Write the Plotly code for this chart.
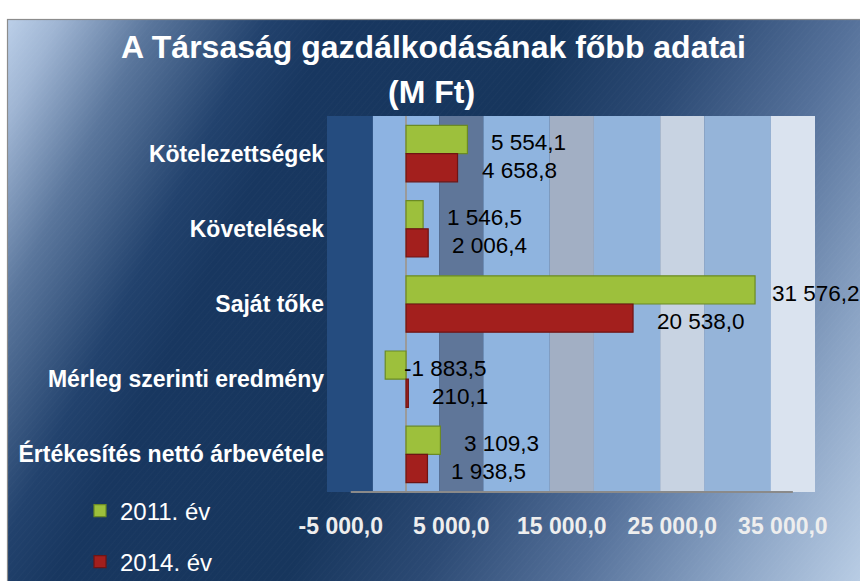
import base64
import plotly.graph_objects as go

# ---- data ----
categories = ["Kötelezettségek", "Követelések", "Saját tőke",
              "Mérleg szerinti eredmény", "Értékesítés nettó árbevétele"]
values_2011 = [5554.1, 1546.5, 31576.2, -1883.5, 3109.3]
values_2014 = [4658.8, 2006.4, 20538.0, 210.1, 1938.5]
series_names = ["2011. év", "2014. év"]
tick_values = [-5000, 5000, 15000, 25000, 35000]
title_line1 = "A Társaság gazdálkodásának főbb adatai"
title_line2 = "(M Ft)"


def hu(v):
    return f"{v:,.1f}".replace(",", " ").replace(".", ",")


W, H = 860, 581
L, T = 327, 116
R, B = W - 815, H - 492
PW, PH = W - L - R, H - T - B
X_RANGE = [-7150, 37000]


def px_x(px):  # page px -> paper
    return (px - L) / PW


def px_y(py):
    return (H - B - py) / PH


FONT = "Liberation Sans, Arial, sans-serif"
GREEN, GREEN_LINE = "#9dc03c", "#6b8a24"
RED, RED_LINE = "#a31f1d", "#6e1414"

# background (chart area gradient + border) as an SVG image, in page pixels
svg = f"""<svg xmlns='http://www.w3.org/2000/svg' width='{W}' height='{H}' viewBox='0 0 {W} {H}' preserveAspectRatio='none'>
<defs>
<linearGradient id='g' gradientUnits='userSpaceOnUse' x1='0' y1='0' x2='920' y2='460'>
<stop offset='0' stop-color='#c5d8f0'/>
<stop offset='0.06' stop-color='#9fb5d3'/>
<stop offset='0.14' stop-color='#5a769c'/>
<stop offset='0.24' stop-color='#22426d'/>
<stop offset='0.30' stop-color='#183760'/>
<stop offset='0.50' stop-color='#17365d'/>
<stop offset='0.62' stop-color='#2c4a74'/>
<stop offset='0.75' stop-color='#55719a'/>
<stop offset='0.88' stop-color='#8aa3c4'/>
<stop offset='1' stop-color='#b8cce4'/>
</linearGradient>
<pattern id='p' width='5' height='5' patternUnits='userSpaceOnUse' patternTransform='rotate(40)'>
<line x1='0' y1='0' x2='0' y2='5' stroke='#ffffff' stroke-width='1'/></pattern>
</defs>
<rect x='0' y='0' width='{W}' height='{H}' fill='#ffffff'/>
<rect x='7.5' y='19.5' width='{W + 10}' height='{H + 10}' fill='url(#g)' stroke='#8c8c8c' stroke-width='1.2'/>
<rect x='8' y='20' width='{W + 10}' height='{H + 10}' fill='url(#p)' opacity='0.035'/>
</svg>"""
svg_uri = "data:image/svg+xml;base64," + base64.b64encode(svg.encode("utf-8")).decode()

fig = go.Figure()
fig.add_trace(go.Bar(
    y=categories, x=values_2011, name=series_names[0], orientation="h",
    marker=dict(color=GREEN, line=dict(color=GREEN_LINE, width=1.2)),
    legend="legend",
))
fig.add_trace(go.Bar(
    y=categories, x=values_2014, name=series_names[1], orientation="h",
    marker=dict(color=RED, line=dict(color=RED_LINE, width=1.2)),
    legend="legend2",
))

# data labels (placed right of the bar end; pulled in near the right edge so they fit)
annotations = []
for vals, ysh in ((values_2011, 11), (values_2014, -17)):
    for cat, v in zip(categories, vals):
        if v < 0:
            xs = -4
        elif v > 0.8 * X_RANGE[1]:
            xs = 15
        else:
            xs = 22
        annotations.append(dict(
            x=max(v, 0), y=cat, xref="x", yref="y", text=hu(v),
            showarrow=False, xanchor="left", yanchor="middle",
            xshift=xs, yshift=ysh,
            font=dict(family=FONT, size=22.5, color="#000000"),
        ))

# title
annotations.append(dict(x=px_x(433), y=px_y(47), xref="paper", yref="paper",
                        text=title_line1, showarrow=False, xanchor="center", yanchor="middle",
                        font=dict(family=FONT, size=32, color="#ffffff", weight="bold")))
annotations.append(dict(x=px_x(431), y=px_y(92), xref="paper", yref="paper",
                        text=title_line2, showarrow=False, xanchor="center", yanchor="middle",
                        font=dict(family=FONT, size=32, color="#ffffff", weight="bold")))

# plot-area bands (background styling)
bands = [(X_RANGE[0], -3000, "#254c7f"), (-3000, 3000, "#8db3e2"), (3000, 7000, "#5f7699"),
         (7000, 13000, "#8fb4df"), (13000, 17000, "#a2afc4"), (17000, 23000, "#92b4dc"),
         (23000, 27000, "#c8d3e2"), (27000, 33000, "#95b4d9"), (33000, X_RANGE[1], "#dae3ef")]
shapes = []
for x0, x1, c in bands:
    shapes.append(dict(type="rect", xref="x", yref="paper", x0=x0, x1=x1, y0=0, y1=1,
                       fillcolor=c, line=dict(width=0), layer="below"))
shapes.append(dict(type="line", xref="x", yref="paper", x0=tick_values[0], x1=tick_values[-1],
                   y0=0, y1=0, line=dict(color="#8a8a8a", width=2), layer="above"))

fig.update_layout(
    width=W, height=H, autosize=False,
    margin=dict(l=L, r=R, t=T, b=B, pad=0, autoexpand=False),
    paper_bgcolor="#ffffff", plot_bgcolor="rgba(0,0,0,0)",
    barmode="group", bargap=0.25, bargroupgap=0,
    font=dict(family=FONT),
    showlegend=True,
    legend=dict(x=80 / W, y=1 - 511 / H, xref="container", yref="container",
                xanchor="left", yanchor="middle", bgcolor="rgba(0,0,0,0)",
                font=dict(family=FONT, size=24, color="#ffffff")),
    legend2=dict(x=80 / W, y=1 - 562 / H, xref="container", yref="container",
                 xanchor="left", yanchor="middle", bgcolor="rgba(0,0,0,0)",
                 font=dict(family=FONT, size=24, color="#ffffff")),
    xaxis=dict(range=X_RANGE, showgrid=False, zeroline=True,
               zerolinecolor="#9a9a9a", zerolinewidth=1.5, showline=False,
               tickvals=tick_values, ticktext=[hu(v) for v in tick_values],
               ticks="", tickangle=0, ticklabelstandoff=18, ticklabelshift=-10,
               tickfont=dict(family=FONT, size=23, color="#eeeeee", weight="bold"),
               automargin=False, fixedrange=True),
    yaxis=dict(type="category", autorange="reversed", showgrid=False, zeroline=False,
               showline=False, ticks="", ticklabelstandoff=2,
               tickfont=dict(family=FONT, size=23, color="#ffffff", weight="bold"),
               automargin=False, fixedrange=True),
    annotations=annotations,
    shapes=shapes,
    images=[dict(source=svg_uri, xref="paper", yref="paper",
                 x=-L / PW, y=1 + T / PH, sizex=W / PW, sizey=H / PH,
                 xanchor="left", yanchor="top", sizing="stretch", layer="below")],
)

fig.write_html(
    "out.html",
    config={"displayModeBar": False},
    post_script="document.body.style.margin='0';document.body.style.overflow='hidden';",
)
